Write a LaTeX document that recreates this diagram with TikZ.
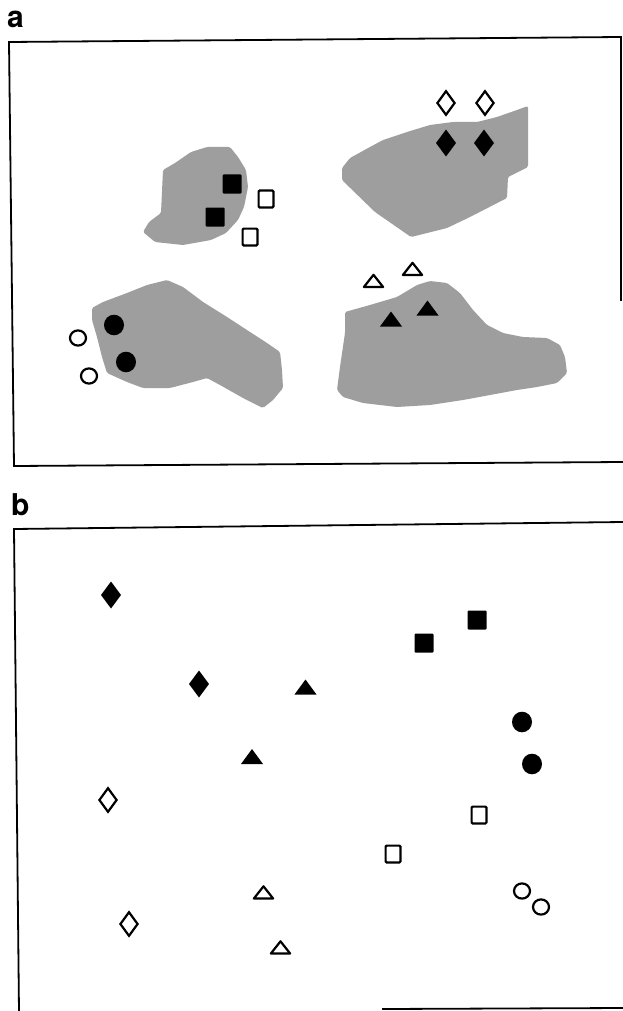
\documentclass[tikz,border=0pt]{standalone}
\usepackage{fontspec}
\newfontfamily\labfont{TeX Gyre Heros}
\definecolor{blobgray}{RGB}{158,158,158}
\begin{document}
\begin{tikzpicture}[x=1pt,y=-1pt,
  frame/.style={line width=1.8pt,line cap=rect},
  blob/.style={fill=blobgray,draw=none,rounded corners=1.5pt},
  lab/.style={anchor=base west,inner sep=0pt,font=\labfont\fontsize{30}{30}\selectfont\bfseries},
  sym/.style={line width=2.2pt},
  fsq/.pic={\fill[rounded corners=1pt] (-9.5,-9.5) rectangle (9.5,9.5);},
  osq/.pic={\draw[sym,rounded corners=1pt] (-7.4,-8.4) rectangle (7.4,8.4);},
  fdia/.pic={\fill (0,-13.5)--(10,0)--(0,13.5)--(-10,0)--cycle;},
  odia/.pic={\draw[sym] (0,-11.8)--(8.6,0)--(0,11.8)--(-8.6,0)--cycle;},
  ftri/.pic={\fill (0,-7.5)--(11,7.5)--(-11,7.5)--cycle;},
  otri/.pic={\draw[sym,line join=round] (0,-6.2)--(9.6,6)--(-9.6,6)--cycle;},
  fcirc/.pic={\fill (0,0) ellipse [x radius=10,y radius=10.3];},
  ocirc/.pic={\draw[sym] (0,0) ellipse [x radius=8,y radius=7.6];}
]
\useasboundingbox (0,0) rectangle (623,1011);
\fill[white] (0,0) rectangle (623,1011);

% ---------- panel a ----------
\node[lab] (la) at (7,28) {a};
\draw[frame] (621,37) -- (9,42) -- (14,466) -- (623,462);
\draw[frame] (621,37) -- (621,300);

\fill[blob] (143,232) -- (149,222) -- (161,213) -- (163,170) -- (175,163) -- (191,152) -- (207,147) -- (230,147) -- (238,157) -- (246,170) -- (248,187) -- (244,207) -- (238,220) -- (226,233) -- (211,240) -- (183,245) -- (155,242) -- cycle;

\fill[blob] (342,168) -- (350,158) -- (370,147) -- (383,140) -- (407,132) -- (430,125) -- (453,122) -- (477,122) -- (497,117) -- (517,110) -- (528,106) -- (528,167) -- (508,177) -- (507,198) -- (470,217) -- (447,228) -- (411,237) -- (375,212) -- (342,180) -- cycle;

\fill[blob] (92,308) -- (103,302) -- (127,293) -- (147,285) -- (167,280) -- (183,287) -- (203,302) -- (227,317) -- (250,332) -- (267,343) -- (280,352) -- (282,370) -- (283,388) -- (273,400) -- (263,408) -- (243,398) -- (220,385) -- (207,378) -- (193,382) -- (170,388) -- (143,388) -- (127,382) -- (107,373) -- (102,357) -- (97,337) -- (92,320) -- cycle;

\fill[blob] (345,312) -- (370,305) -- (397,297) -- (417,285) -- (430,281) -- (447,283) -- (460,293) -- (473,310) -- (487,325) -- (503,333) -- (523,337) -- (547,338) -- (560,345) -- (565,357) -- (567,373) -- (557,383) -- (537,387) -- (517,390) -- (490,395) -- (463,400) -- (430,405) -- (397,407) -- (363,403) -- (343,397) -- (337,390) -- (340,367) -- (345,333) -- cycle;

\pic (aFS1) at (232,184) {fsq};
\pic (aFS2) at (215,217) {fsq};
\pic (aOS1) at (266,199) {osq};
\pic (aOS2) at (250,237) {osq};
\pic (aFD1) at (446,143) {fdia};
\pic (aFD2) at (484,143) {fdia};
\pic (aOD1) at (446,103) {odia};
\pic (aOD2) at (485,103) {odia};
\pic (aFC1) at (114,325) {fcirc};
\pic (aFC2) at (126,362) {fcirc};
\pic (aOC1) at (78,338) {ocirc};
\pic (aOC2) at (89,376) {ocirc};
\pic (aFT1) at (391,319) {ftri};
\pic (aFT2) at (427.5,308) {ftri};
\pic (aOT1) at (373.5,281) {otri};
\pic (aOT2) at (412.5,269) {otri};

% ---------- panel b ----------
\node[lab] (lb) at (11,515) {b};
\draw[frame] (623,522) -- (14,529) -- (19,1012);
\draw[frame] (383,1009) -- (623,1008);

\pic (bFD1) at (111,595) {fdia};
\pic (bFD2) at (199,684) {fdia};
\pic (bFS1) at (477,620) {fsq};
\pic (bFS2) at (424,643) {fsq};
\pic (bFT1) at (305.5,687) {ftri};
\pic (bFT2) at (252,756.5) {ftri};
\pic (bFC1) at (522,722) {fcirc};
\pic (bFC2) at (532,764) {fcirc};
\pic (bOD1) at (108,800) {odia};
\pic (bOD2) at (129,924) {odia};
\pic (bOS1) at (479,815) {osq};
\pic (bOS2) at (393,854) {osq};
\pic (bOT1) at (263.5,892.5) {otri};
\pic (bOT2) at (280.5,947.5) {otri};
\pic (bOC1) at (522,891) {ocirc};
\pic (bOC2) at (541,907) {ocirc};
\end{tikzpicture}
\end{document}
